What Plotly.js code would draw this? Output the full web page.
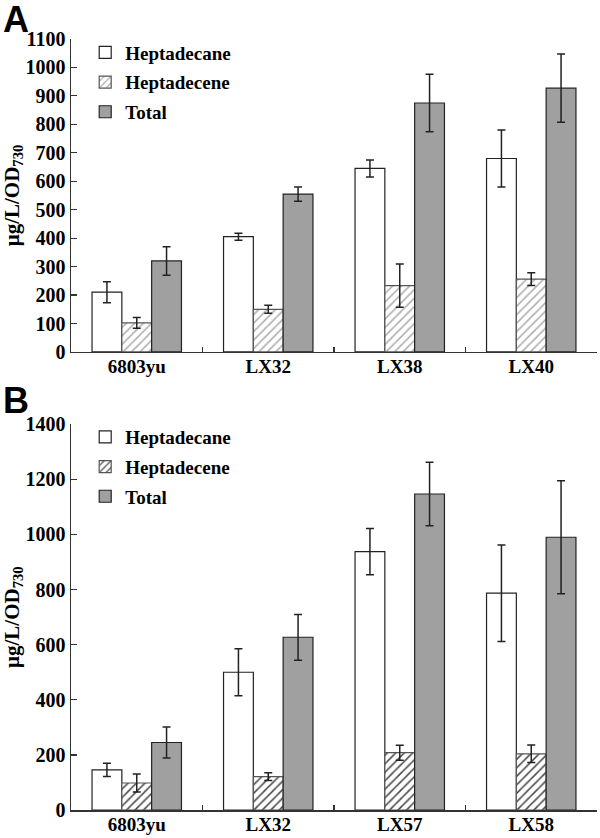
<!DOCTYPE html>
<html>
<head>
<meta charset="utf-8">
<script src="https://cdn.plot.ly/plotly-3.0.1.min.js"></script>
<style>html,body{margin:0;padding:0;background:#fff;}#chart{width:600px;height:838px;}</style>
</head>
<body>
<div id="chart"></div>
<script>
// Panel A data
const catsA = ["6803yu", "LX32", "LX38", "LX40"];
const heptadecaneA = [210, 405, 645, 680];
const heptadecaneErrA = [37, 12, 30, 100];
const heptadeceneA = [102, 150, 233, 256];
const heptadeceneErrA = [19, 14, 76, 22];
const totalA = [320, 555, 875, 927];
const totalErrA = [50, 25, 101, 120];

// Panel B data
const catsB = ["6803yu", "LX32", "LX57", "LX58"];
const heptadecaneB = [146, 500, 938, 787];
const heptadecaneErrB = [24, 85, 84, 175];
const heptadeceneB = [98, 121, 208, 204];
const heptadeceneErrB = [33, 14, 27, 32];
const totalB = [245, 627, 1147, 990];
const totalErrB = [56, 83, 115, 205];

const seriesNames = ["Heptadecane", "Heptadecene", "Total"];

const serif = "Liberation Serif, Times New Roman, serif";
const errStyle = (arr) => ({type: "data", array: arr, visible: true, color: "#222", thickness: 1.5, width: 4});

function traces(cats, a, aE, b, bE, c, cE, xa, ya, leg, hatchColor) {
  return [
    {type: "bar", name: seriesNames[0], x: cats, y: a, xaxis: xa, yaxis: ya, legend: leg,
     marker: {color: "#ffffff", line: {color: "#222", width: 1.2}}, error_y: errStyle(aE)},
    {type: "bar", name: seriesNames[1], x: cats, y: b, xaxis: xa, yaxis: ya, legend: leg,
     marker: {color: "#ffffff", line: {color: "#555", width: 1.2},
              pattern: {shape: "/", fgcolor: hatchColor, bgcolor: "#ffffff", size: 6, solidity: 0.25}},
     error_y: errStyle(bE)},
    {type: "bar", name: seriesNames[2], x: cats, y: c, xaxis: xa, yaxis: ya, legend: leg,
     marker: {color: "#a0a0a0", line: {color: "#222", width: 1.2}}, error_y: errStyle(cE)}
  ];
}

const data = [
  ...traces(catsA, heptadecaneA, heptadecaneErrA, heptadeceneA, heptadeceneErrA, totalA, totalErrA, "x", "y", "legend", "#aaaaaa"),
  ...traces(catsB, heptadecaneB, heptadecaneErrB, heptadeceneB, heptadeceneErrB, totalB, totalErrB, "x2", "y2", "legend2", "#444444")
];
data.forEach((t, i) => { t.legendgroup = "g" + i; });

const tickFont = {family: serif, size: 20, color: "#000", weight: "bold"};
const xTickFont = {family: serif, size: 19, color: "#000", weight: "bold"};

function xAxis(anchor) {
  return {anchor: anchor, domain: [0, 1], type: "category", showline: true, linecolor: "#333", linewidth: 1.5,
          ticks: "inside", tickson: "boundaries", ticklen: 5, tickwidth: 1.2, tickcolor: "#333",
          showgrid: false, zeroline: false, tickfont: xTickFont, ticklabelstandoff: -3,
          automargin: false, fixedrange: true};
}
function yAxis(anchor, domain, range, dtick) {
  return {anchor: anchor, domain: domain, range: range, dtick: dtick, showline: true, linecolor: "#333", linewidth: 1.5,
          ticks: "inside", ticklen: 6, tickwidth: 1.2, tickcolor: "#333", showgrid: false, zeroline: false,
          tickfont: tickFont, automargin: false, fixedrange: true,
          title: {text: "<b>μg/L/OD<sub>730</sub></b>", font: {family: serif, size: 21, color: "#000"}, standoff: 4}};
}

const legendFont = {family: serif, size: 19, color: "#000", weight: "bold"};

const layout = {
  width: 600, height: 838,
  margin: {l: 71, r: 3, t: 0, b: 0},
  paper_bgcolor: "#fff", plot_bgcolor: "#fff",
  barmode: "group", bargap: 0.32, bargroupgap: 0,
  showlegend: true,
  xaxis: xAxis("y"),
  yaxis: yAxis("x", [0.5800, 0.9535], [0, 1100], 100),
  xaxis2: xAxis("y2"),
  yaxis2: yAxis("x2", [0.0334, 0.4937], [0, 1400], 200),
  legend: {x: 0.027, y: 0.960, xanchor: "left", yanchor: "top", font: legendFont, bgcolor: "rgba(0,0,0,0)",
           tracegroupgap: 2, borderwidth: 0},
  legend2: {x: 0.027, y: 0.5012, xanchor: "left", yanchor: "top", font: legendFont, bgcolor: "rgba(0,0,0,0)",
            tracegroupgap: 2, borderwidth: 0},
  annotations: [
    {text: "<b>A</b>", xref: "paper", yref: "paper", x: -0.134, y: 1.0036, xanchor: "left", yanchor: "top",
     showarrow: false, font: {family: "Liberation Sans, Arial, sans-serif", size: 36, color: "#000"}},
    {text: "<b>B</b>", xref: "paper", yref: "paper", x: -0.134, y: 0.5494, xanchor: "left", yanchor: "top",
     showarrow: false, font: {family: "Liberation Sans, Arial, sans-serif", size: 36, color: "#000"}}
  ]
};

Plotly.newPlot("chart", data, layout, {displayModeBar: false, staticPlot: true});
</script>
</body>
</html>
